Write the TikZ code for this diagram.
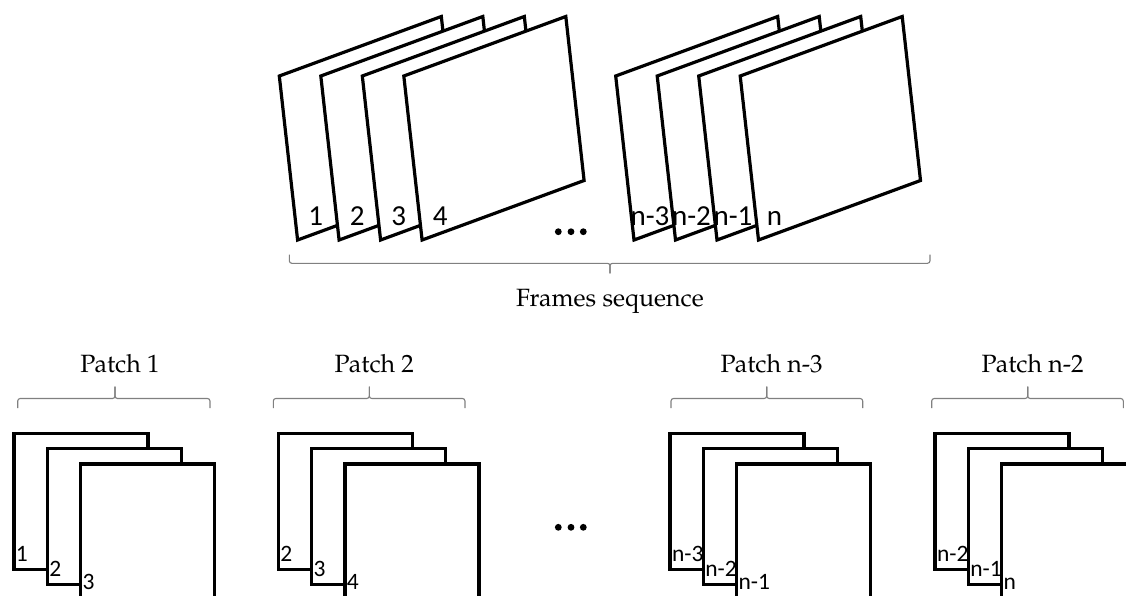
\documentclass[tikz,border=0pt]{standalone}
\usepackage{fontspec}
\setmainfont{Carlito}
\newfontfamily\capfont{TeX Gyre Pagella}
\tikzset{
  sheet/.style={draw=black, line width=3.2pt, fill=white, line join=miter},
  bracket/.style={draw=black!50, line width=1.1pt, rounded corners=2.5pt},
  toplabel/.style={font=\fontsize{29}{32}\selectfont, inner sep=0pt, anchor=base},
  smalllabel/.style={font=\fontsize{23.5}{26}\selectfont, inner sep=0pt, anchor=base west},
  caption/.style={font=\capfont\fontsize{25}{28}\selectfont, inner sep=0pt, anchor=base},
  dot/.style={fill=black, circle, inner sep=0pt, minimum size=6.8pt}
}
\begin{document}
\begin{tikzpicture}[x=1pt, y=-1pt]
\useasboundingbox (0,0) rectangle (1126,595);
\clip (0,0) rectangle (1126,595);

% ---- full frames sequence (slanted sheets) ----
\foreach \i/\lab in {0/1,1/2,2/3,3/4}{
  \pgfmathsetmacro\x{279.3+41.5*\i}
  \path[sheet] (\x,76) -- ++(162,-59.5) -- ++(18.3,164) -- ++(-162,59.5) -- cycle;
  \node[toplabel] (top\lab) at (\x+36.3,225.5) {\lab};
}
\foreach \i/\lab/\nm in {0/n-3/a,1/n-2/b,2/n-1/c,3/n/d}{
  \pgfmathsetmacro\x{615.7+41.5*\i}
  \path[sheet] (\x,76) -- ++(162,-59.5) -- ++(18.3,164) -- ++(-162,59.5) -- cycle;
  \node[toplabel] (top\nm) at (\x+34.3,225.5) {\lab};
}
\node[dot] (td1) at (558.3,231.7) {};
\node[dot] (td2) at (571,231.7) {};
\node[dot] (td3) at (583.3,231.7) {};

% ---- brace under the sequence ----
\coordinate (sl) at (289.3,254.5);
\coordinate (sr) at (930,254.5);
\coordinate (st) at (610,273.3);
\draw[bracket] (sl) -- (289.3,263.3) -- (610,263.3) -- (st);
\draw[bracket] (st) -- (610,263.3) -- (930,263.3) -- (sr);
\node[caption] (seq) at (610,306.7) {Frames sequence};

% ---- patches: three stacked sheets each ----
\foreach \p/\px/\a/\b/\c in {1/14/1/2/3, 2/278.3/2/3/4, 3/670/n-3/n-2/n-1, 4/935/n-2/n-1/n}{
  \foreach \k/\t/\dy in {0/\a/128,1/\b/128,2/\c/125.5}{
    \pgfmathsetmacro\fx{\px+33.3*\k}
    \pgfmathsetmacro\fy{433.3+15.3*\k}
    \path[sheet] (\fx,\fy) rectangle ++(134,136);
    \node[smalllabel] (p\p s\k) at (\fx+1.8,\fy+\dy) {\t};
  }
}

% ---- braces above the patches ----
\foreach \p/\l/\r/\t/\txt in {1/17.7/210/115/Patch 1, 2/273.3/465/369.3/Patch 2, 3/671/862.7/766.7/Patch n-3, 4/931.7/1123.3/1027.7/Patch n-2}{
  \coordinate (bl\p) at (\l,408);
  \coordinate (br\p) at (\r,408);
  \coordinate (bt\p) at (\t,386.5);
  \draw[bracket] (bl\p) -- (\l,398.5) -- (\t,398.5) -- (bt\p);
  \draw[bracket] (bt\p) -- (\t,398.5) -- (\r,398.5) -- (br\p);
  \node[caption] (cap\p) at (\t+5,372) {\txt};
}

\node[dot] (bd1) at (558.3,527.3) {};
\node[dot] (bd2) at (571,527.3) {};
\node[dot] (bd3) at (583.3,527.3) {};
\end{tikzpicture}
\end{document}
